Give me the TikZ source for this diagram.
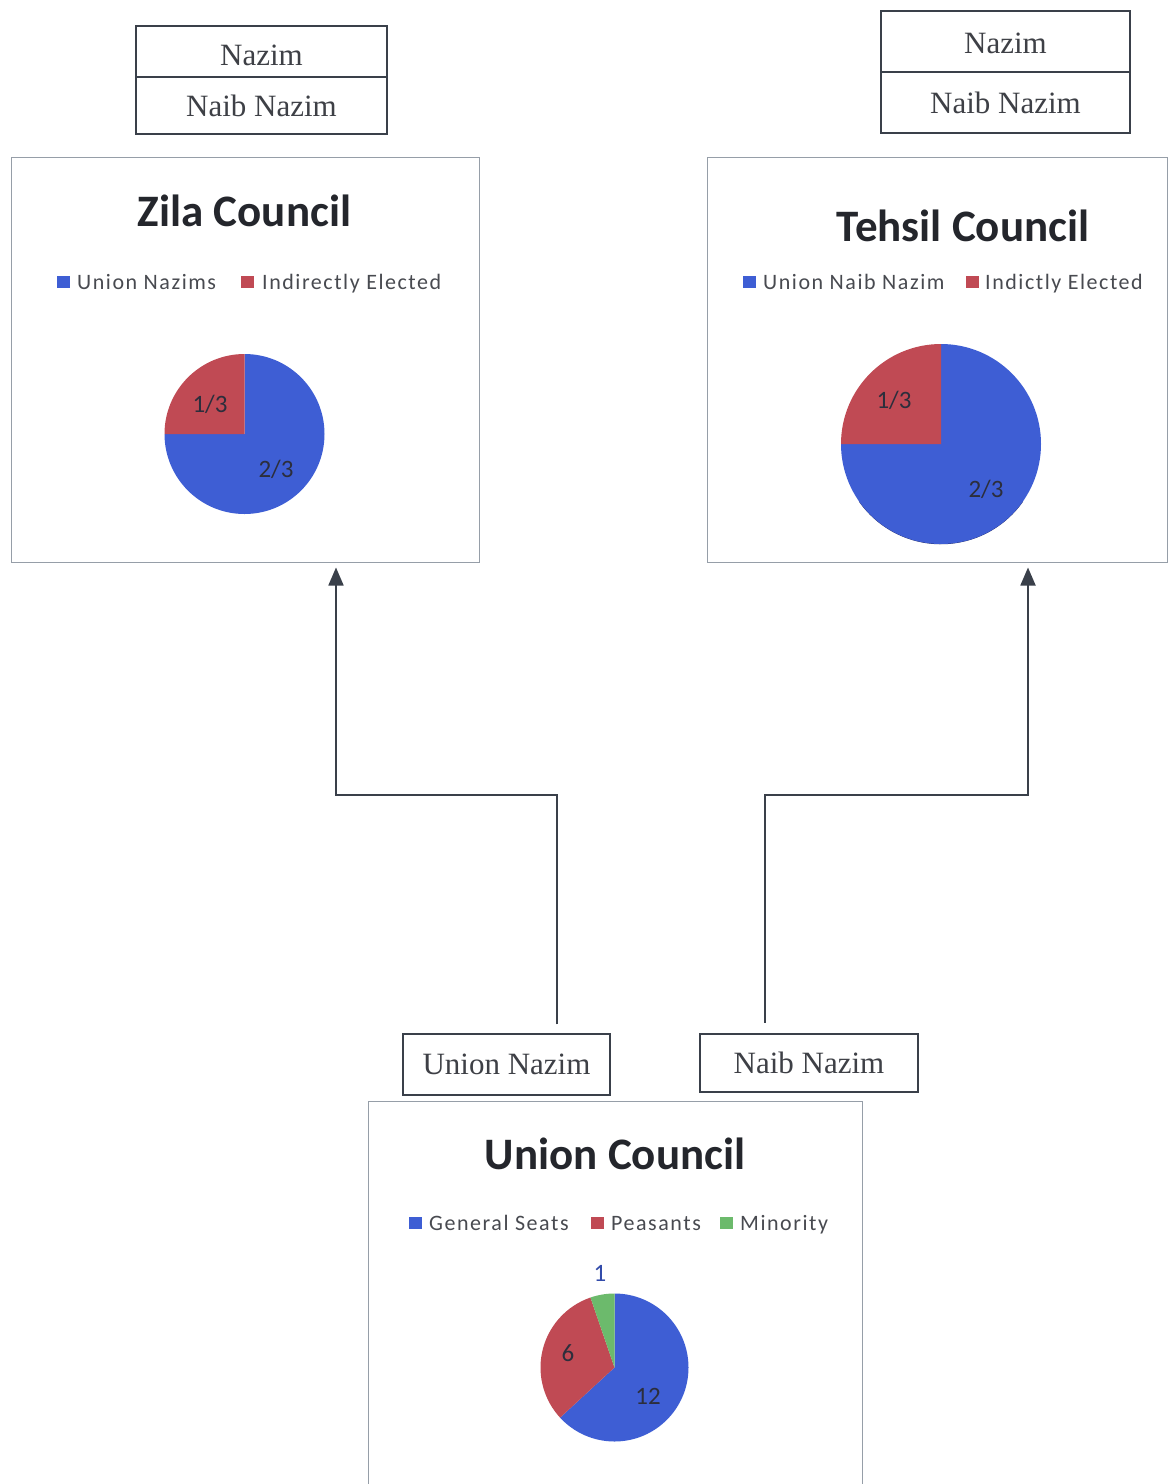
\documentclass[tikz,border=0pt]{standalone}
\usepackage{fontspec}
\setmainfont{Liberation Serif}
\newfontfamily\chartfont{Carlito}
\newfontfamily\legendfont[LetterSpace=7]{Carlito}
\usetikzlibrary{arrows.meta}

\definecolor{pieblue}{RGB}{62,94,212}
\definecolor{piered}{RGB}{192,74,84}
\definecolor{piegreen}{RGB}{108,186,108}
\definecolor{boxline}{RGB}{58,64,74}
\definecolor{panelline}{RGB}{150,158,168}
\definecolor{legendtext}{RGB}{72,74,80}
\definecolor{titletext}{RGB}{36,38,44}
\definecolor{serifgrey}{RGB}{62,64,70}
\definecolor{slicetext}{RGB}{44,46,60}
\definecolor{shadowblue}{RGB}{30,36,90}

\tikzset{
  officebox/.style={draw=boxline, line width=1.3pt, inner sep=0pt,
    text=serifgrey, font=\fontsize{31}{31}\selectfont},
  panel/.style={draw=panelline, line width=1pt, inner sep=0pt},
  charttitle/.style={text=titletext, inner sep=0pt,
    font=\chartfont\bfseries\fontsize{45}{45}\selectfont},
  legendlabel/.style={text=legendtext, inner sep=0pt, anchor=base west,
    font=\legendfont\fontsize{22}{22}\selectfont},
  swatch/.style={minimum size=12.5pt, inner sep=0pt, anchor=west},
  slicelabel/.style={text=slicetext, inner sep=0pt,
    font=\chartfont\fontsize{25}{25}\selectfont},
  conn/.style={draw=boxline, line width=1.8pt},
  arrowconn/.style={conn, -{Triangle[length=18pt,width=15pt]}},
}

\begin{document}
\begin{tikzpicture}[x=1pt, y=-1pt]
\useasboundingbox (0,0) rectangle (1168,1484);
\clip (0,0) rectangle (1168,1484);
\fill[white] (0,0) rectangle (1168,1484);

% ---------- Zila level ----------
\node[officebox, minimum width=251pt, minimum height=51pt, text height=28pt] (zNazim) at (261.5,51.5) {Nazim};
\node[officebox, minimum width=251pt, minimum height=57pt] (zNaib) at (261.5,105.5) {Naib Nazim};
\node[panel, minimum width=468pt, minimum height=405pt] (zila) at (245,359.5) {};
\node[charttitle] (zTitle) at (244.5,211) {Zila Council};
\node[swatch, fill=pieblue] (zSw1) at (57,282) {};
\node[legendlabel] (zLeg1) at (77,289) {Union Nazims};
\node[swatch, fill=piered] (zSw2) at (241,282) {};
\node[legendlabel] (zLeg2) at (262,289) {Indirectly Elected};
\begin{scope}[shift={(244.5,434)}, y=1pt]
  \fill[pieblue] (0,0) -- (90:80pt) arc[start angle=90, end angle=-180, radius=80pt] -- cycle;
  \fill[piered] (0,0) -- (90:80pt) arc[start angle=90, end angle=180, radius=80pt] -- cycle;
\end{scope}
\node[slicelabel] (zS1) at (210,404) {1/3};
\node[slicelabel] (zS2) at (276,469) {2/3};

% ---------- Tehsil level ----------
\node[officebox, minimum width=249pt, minimum height=61pt, text height=24pt] (tNazim) at (1005.5,41.5) {Nazim};
\node[officebox, minimum width=249pt, minimum height=61pt] (tNaib) at (1005.5,102.5) {Naib Nazim};
\node[panel, minimum width=460pt, minimum height=405pt] (tehsil) at (937,359.5) {};
\node[charttitle] (tTitle) at (963,226) {Tehsil Council};
\node[swatch, fill=pieblue] (tSw1) at (743,282) {};
\node[legendlabel] (tLeg1) at (763,289) {Union Naib Nazim};
\node[swatch, fill=piered] (tSw2) at (966,282) {};
\node[legendlabel] (tLeg2) at (985,289) {Indictly Elected};
\begin{scope}[shift={(941,444)}, y=1pt]
  \draw[shadowblue, line width=2.5pt] (215:99pt) arc[start angle=215, end angle=325, radius=99pt];
  \fill[pieblue] (0,0) -- (90:100pt) arc[start angle=90, end angle=-180, radius=100pt] -- cycle;
  \fill[piered] (0,0) -- (90:100pt) arc[start angle=90, end angle=180, radius=100pt] -- cycle;
\end{scope}
\node[slicelabel] (tS1) at (894,400) {1/3};
\node[slicelabel] (tS2) at (986,489) {2/3};

% ---------- Union level ----------
\node[officebox, minimum width=207pt, minimum height=61pt] (uNazim) at (506.5,1064.5) {Union Nazim};
\node[officebox, minimum width=218pt, minimum height=58pt] (uNaib) at (809,1063) {Naib Nazim};
\node[panel, minimum width=494pt, minimum height=400pt] (union) at (615,1301) {};
\node[charttitle] (uTitle) at (615,1154) {Union Council};
\node[swatch, fill=pieblue] (uSw1) at (409,1223) {};
\node[legendlabel] (uLeg1) at (429,1230) {General Seats};
\node[swatch, fill=piered] (uSw2) at (591,1223) {};
\node[legendlabel] (uLeg2) at (611,1230) {Peasants};
\node[swatch, fill=piegreen] (uSw3) at (720,1223) {};
\node[legendlabel] (uLeg3) at (740,1230) {Minority};
\begin{scope}[shift={(614.5,1367.5)}, y=1pt]
  \fill[pieblue] (0,0) -- (90:74pt) arc[start angle=90, end angle=-137.37, radius=74pt] -- cycle;
  \fill[piered] (0,0) -- (108.95:74pt) arc[start angle=108.95, end angle=222.63, radius=74pt] -- cycle;
  \fill[piegreen] (0,0) -- (90:74pt) arc[start angle=90, end angle=108.95, radius=74pt] -- cycle;
\end{scope}
\node[slicelabel, text=pieblue!80!black] (uS3) at (600,1273) {1};
\node[slicelabel] (uS2) at (568,1353) {6};
\node[slicelabel] (uS1) at (648,1396) {12};

% ---------- connectors ----------
\coordinate (uNazimOut) at ([xshift=50.5pt,yshift=9pt]uNazim.north);
\coordinate (uNaibOut) at ([xshift=-44pt,yshift=10.5pt]uNaib.north);
\coordinate (zilaIn) at ([xshift=91pt,yshift=-5pt]zila.south);
\coordinate (tehsilIn) at ([xshift=91pt,yshift=-5pt]tehsil.south);
\draw[arrowconn] (uNazimOut) -- (uNazimOut |- 0,795) -| (zilaIn);
\draw[arrowconn] (uNaibOut) -- (uNaibOut |- 0,795) -| (tehsilIn);
\end{tikzpicture}
\end{document}
